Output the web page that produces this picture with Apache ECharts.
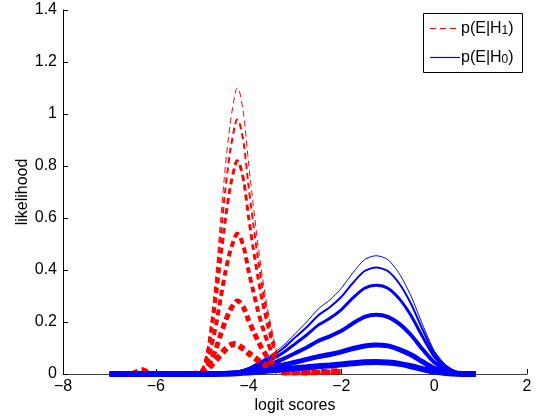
<!DOCTYPE html>
<html>
<head>
<meta charset="utf-8">
<script src="https://cdn.jsdelivr.net/npm/echarts@6/dist/echarts.min.js"></script>
<style>
  html, body { margin: 0; padding: 0; background: #fff; }
  #main { width: 540px; height: 417px; }
</style>
</head>
<body>
<div id="main"></div>
<script>
// x positions (logit scores)
const xRed = [-6.5, -6.4, -6.3, -6.2, -6.1, -5.2, -5.1, -5.0, -4.9, -4.8, -4.7, -4.6, -4.5, -4.4, -4.3, -4.25, -4.2, -4.1, -4.0, -3.9, -3.8, -3.7, -3.6, -3.5, -3.4, -3.3, -3.2, -3.0, -2.5, -2.0]
const xBlue = [-7, -6, -5, -4.5, -4.25, -4, -3.75, -3.5, -3.25, -3, -2.75, -2.5, -2.25, -2, -1.75, -1.5, -1.25, -1, -0.75, -0.5, -0.25, 0, 0.25, 0.5, 0.75, 0.9]

// p(E|H1), thin -> thick
const red1 = [0, 0.006, 0.012, 0.006, 0, 0, 0.003, 0.02, 0.09, 0.22, 0.39, 0.6, 0.8, 0.96, 1.07, 1.1, 1.09, 0.99, 0.81, 0.65, 0.5, 0.37, 0.26, 0.17, 0.09, 0.035, 0.012, 0.003, 0.002, 0.004]
const red2 = [0, 0.006, 0.012, 0.006, 0, 0, 0.003, 0.018, 0.08, 0.196, 0.347, 0.534, 0.712, 0.854, 0.952, 0.979, 0.97, 0.881, 0.721, 0.579, 0.445, 0.329, 0.231, 0.151, 0.08, 0.031, 0.011, 0.003, 0.002, 0.004]
const red3 = [0, 0.006, 0.012, 0.006, 0, 0, 0.003, 0.015, 0.067, 0.164, 0.291, 0.447, 0.596, 0.715, 0.797, 0.82, 0.812, 0.738, 0.603, 0.484, 0.373, 0.276, 0.194, 0.127, 0.067, 0.026, 0.009, 0.003, 0.003, 0.005]
const red4 = [0, 0.008, 0.014, 0.008, 0, 0, 0.003, 0.01, 0.044, 0.108, 0.191, 0.294, 0.392, 0.47, 0.524, 0.539, 0.534, 0.485, 0.397, 0.319, 0.245, 0.181, 0.127, 0.083, 0.044, 0.017, 0.006, 0.004, 0.004, 0.007]
const red5 = [0, 0.008, 0.015, 0.008, 0, 0, 0.003, 0.008, 0.023, 0.056, 0.099, 0.153, 0.204, 0.245, 0.273, 0.281, 0.278, 0.252, 0.207, 0.166, 0.128, 0.094, 0.066, 0.043, 0.023, 0.01, 0.005, 0.005, 0.006, 0.01]
const red6 = [0, 0.008, 0.015, 0.008, 0, 0, 0.004, 0.008, 0.015, 0.035, 0.055, 0.075, 0.095, 0.11, 0.115, 0.113, 0.108, 0.095, 0.08, 0.066, 0.053, 0.04, 0.03, 0.02, 0.013, 0.008, 0.006, 0.006, 0.007, 0.012]

// p(E|H0), thin -> thick
const blue1 = [0, 0, 0, 0.003, 0.01, 0.025, 0.05, 0.075, 0.11, 0.155, 0.2, 0.25, 0.285, 0.33, 0.39, 0.44, 0.455, 0.44, 0.385, 0.3, 0.19, 0.09, 0.035, 0.008, 0.002, 0]
const blue2 = [0, 0, 0, 0.003, 0.009, 0.022, 0.045, 0.068, 0.099, 0.14, 0.18, 0.225, 0.257, 0.297, 0.351, 0.396, 0.41, 0.396, 0.347, 0.27, 0.171, 0.081, 0.032, 0.007, 0.002, 0]
const blue3 = [0, 0, 0, 0.002, 0.008, 0.019, 0.038, 0.056, 0.083, 0.116, 0.15, 0.188, 0.214, 0.248, 0.293, 0.33, 0.341, 0.33, 0.289, 0.225, 0.143, 0.068, 0.026, 0.006, 0.002, 0]
const blue4 = [0, 0, 0, 0.002, 0.006, 0.014, 0.027, 0.04, 0.058, 0.08, 0.102, 0.127, 0.145, 0.166, 0.195, 0.22, 0.228, 0.22, 0.193, 0.15, 0.095, 0.045, 0.018, 0.004, 0.001, 0]
const blue5 = [0, 0, 0, 0.002, 0.005, 0.01, 0.017, 0.025, 0.035, 0.045, 0.056, 0.067, 0.075, 0.085, 0.098, 0.108, 0.112, 0.108, 0.094, 0.074, 0.047, 0.022, 0.009, 0.002, 0, 0]
const blue6 = [0, 0, 0, 0.001, 0.003, 0.006, 0.01, 0.014, 0.018, 0.022, 0.026, 0.03, 0.033, 0.037, 0.041, 0.045, 0.046, 0.044, 0.039, 0.03, 0.019, 0.009, 0.004, 0.001, 0, 0]

const redSets = [red1, red2, red3, red4, red5, red6]
const blueSets = [blue1, blue2, blue3, blue4, blue5, blue6]
const widths = [1, 2, 3, 4, 5, 6]

const font = 'Liberation Sans, Arial, Helvetica, sans-serif'
const series = []
for (let i = 0; i < 6; i++) {
  series.push({
    name: 'p(E|H1)',
    type: 'line',
    data: xRed.map((x, j) => [x, redSets[i][j]]),
    showSymbol: false,
    symbol: 'none',
    smooth: 0.25,
    lineStyle: { color: '#ff0000', width: widths[i], type: [6, 4] }
  })
  series.push({
    name: 'p(E|H0)',
    type: 'line',
    data: xBlue.map((x, j) => [x, blueSets[i][j]]),
    showSymbol: false,
    symbol: 'none',
    smooth: 0.25,
    lineStyle: { color: '#0000ff', width: widths[i] }
  })
}

// legend box drawn by hand (MATLAB style)
const legendRich = {
  a: { fontSize: 16, fontFamily: font, fill: '#000', verticalAlign: 'bottom', lineHeight: 20 },
  s: { fontSize: 12, fontFamily: font, fill: '#000', verticalAlign: 'bottom', lineHeight: 13 }
}

const chart = echarts.init(document.getElementById('main'))
chart.setOption({
  animation: false,
  backgroundColor: '#fff',
  grid: { left: 63, right: 13, top: 10, bottom: 43, containLabel: false, outerBoundsMode: 'none' },
  graphic: [{
    type: 'group',
    left: 423,
    top: 13,
    z: 100,
    children: [
      { type: 'rect', shape: { x: 0.5, y: 0.5, width: 99, height: 59 }, style: { fill: '#fff', stroke: '#000', lineWidth: 1 } },
      { type: 'line', shape: { x1: 7, y1: 15.5, x2: 37, y2: 15.5 }, style: { stroke: '#ff0000', lineWidth: 1, lineDash: [6, 4] } },
      { type: 'line', shape: { x1: 7, y1: 44.5, x2: 37, y2: 44.5 }, style: { stroke: '#0000ff', lineWidth: 1.2 } },
      { type: 'text', x: 38, y: 4, style: { text: '{a|p(E|H}{s|1}{a|)}', rich: legendRich } },
      { type: 'text', x: 38, y: 33, style: { text: '{a|p(E|H}{s|0}{a|)}', rich: legendRich } }
    ]
  }],
  xAxis: {
    type: 'value',
    min: -8,
    max: 2,
    interval: 2,
    name: 'logit scores',
    nameLocation: 'middle',
    nameGap: 24,
    nameMoveOverlap: false,
    nameTextStyle: { fontFamily: font, fontSize: 16, color: '#000' },
    axisLine: { show: true, onZero: false, lineStyle: { color: '#444', width: 1 } },
    axisTick: { show: true, inside: true, length: 5, lineStyle: { color: '#000' } },
    axisLabel: {
      margin: 5,
      fontFamily: font,
      fontSize: 16,
      color: '#000',
      formatter: v => String(v).replace('-', '\u2212')
    },
    splitLine: { show: false }
  },
  yAxis: {
    type: 'value',
    min: 0,
    max: 1.4,
    interval: 0.2,
    name: 'likelihood',
    nameLocation: 'middle',
    nameGap: 32,
    nameMoveOverlap: false,
    nameTextStyle: { fontFamily: font, fontSize: 16, color: '#000' },
    axisLine: { show: true, onZero: false, lineStyle: { color: '#000', width: 1 } },
    axisTick: { show: true, inside: true, length: 5, lineStyle: { color: '#000' } },
    axisLabel: {
      margin: 6,
      fontFamily: font,
      fontSize: 16,
      color: '#000',
      formatter: v => String(Math.round(v * 10) / 10)
    },
    splitLine: { show: false }
  },
  series: series
})
</script>
</body>
</html>
